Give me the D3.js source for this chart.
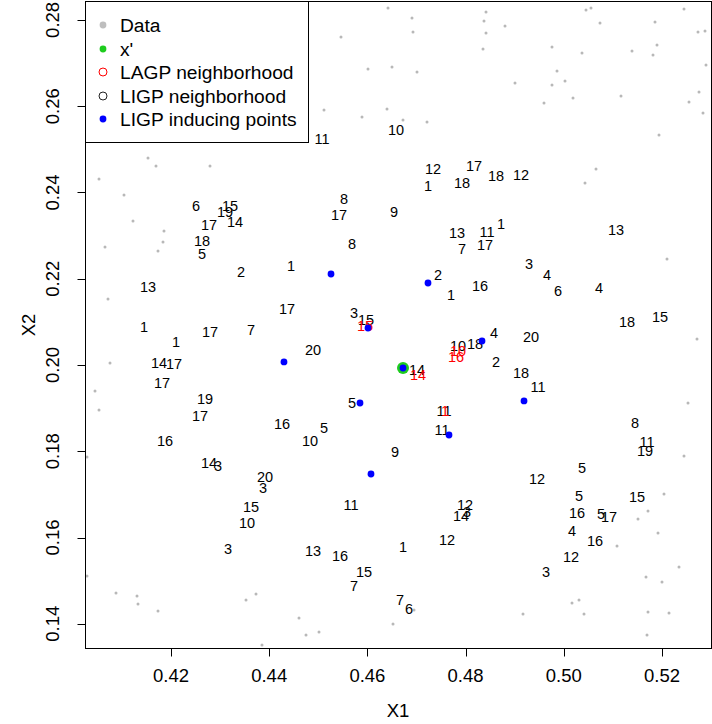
<!DOCTYPE html>
<html><head><meta charset="utf-8">
<script src="https://cdn.jsdelivr.net/npm/d3@7"></script>
<style>body{margin:0;background:#fff}svg{display:block}text{font-family:"Liberation Sans",Arial,Helvetica,sans-serif}</style>
</head><body>
<script>
// ---- data ----
const grayX=[0.41532,0.46420,0.46908,0.46929,0.45462,0.46012,0.46501,0.47010,0.45116,0.45890,0.46399,0.46725,0.47214,0.48416,0.48375,0.48416,0.48803,0.48355,0.50452,0.50554,0.50737,0.52448,0.51858,0.52733,0.52876,0.49760,0.50371,0.51389,0.51898,0.51817,0.52896,0.49862,0.49006,0.49760,0.50025,0.50188,0.49597,0.51165,0.52754,0.52550,0.52835,0.51939,0.41694,0.42794,0.40534,0.41043,0.41226,0.41857,0.41837,0.40656,0.41735,0.40717,0.50432,0.50656,0.52102,0.40758,0.40452,0.40534,0.40289,0.52713,0.52530,0.52448,0.40289,0.40880,0.41308,0.41328,0.41735,0.43528,0.43731,0.43853,0.44607,0.44750,0.45014,0.46522,0.46949,0.52041,0.51715,0.51511,0.51919,0.51084,0.52346,0.51674,0.52000,0.50167,0.50310,0.49169,0.50412,0.51715,0.52143,0.51695];
const grayY=[0.24798,0.28275,0.28043,0.27719,0.27603,0.26861,0.26908,0.26792,0.25911,0.25749,0.25934,0.25679,0.25633,0.28183,0.27974,0.27696,0.27858,0.27325,0.28229,0.28275,0.27928,0.28252,0.27951,0.27719,0.27742,0.27371,0.27232,0.27279,0.27418,0.27186,0.26954,0.26815,0.26537,0.26490,0.26583,0.26189,0.26073,0.26235,0.26328,0.26096,0.25841,0.25331,0.24613,0.24613,0.24311,0.23941,0.23338,0.23106,0.22851,0.22735,0.22643,0.21530,0.24219,0.24543,0.22457,0.20046,0.19397,0.18957,0.17867,0.20603,0.19119,0.17891,0.15109,0.14715,0.14645,0.14460,0.14298,0.14553,0.14692,0.13510,0.14135,0.13741,0.13811,0.13996,0.14321,0.17010,0.16616,0.16430,0.16106,0.15804,0.15318,0.15086,0.14970,0.14483,0.14553,0.14228,0.14228,0.14275,0.14251,0.13741];

const nbrX=[0.46583,0.45075,0.47336,0.48171,0.47234,0.47927,0.48619,0.49128,0.42509,0.43202,0.43100,0.42774,0.43303,0.45524,0.45422,0.46542,0.42631,0.42631,0.47825,0.48436,0.48721,0.47927,0.48395,0.45686,0.51063,0.43426,0.44444,0.49291,0.49658,0.49882,0.50717,0.41532,0.47438,0.47703,0.48293,0.44363,0.45727,0.45972,0.41450,0.42102,0.42794,0.43629,0.51287,0.51959,0.48579,0.49332,0.44892,0.47845,0.48192,0.48619,0.47010,0.41756,0.42061,0.41817,0.49128,0.49475,0.42692,0.42591,0.45686,0.47560,0.41878,0.44261,0.45116,0.44831,0.47519,0.51450,0.51695,0.51654,0.46562,0.42774,0.42957,0.43915,0.43874,0.50371,0.49454,0.45666,0.43629,0.43548,0.50310,0.51491,0.47988,0.47906,0.48029,0.50269,0.50758,0.50921,0.50167,0.50636,0.47621,0.43161,0.44892,0.45442,0.46725,0.50147,0.45931,0.49638,0.45727,0.46664,0.46847];
const nbrY=[0.25447,0.25239,0.24543,0.24613,0.24149,0.24219,0.24381,0.24404,0.23686,0.23686,0.23547,0.23245,0.23315,0.23848,0.23477,0.23547,0.22874,0.22573,0.23060,0.23083,0.23268,0.22689,0.22782,0.22805,0.23129,0.22156,0.22295,0.22341,0.22086,0.21715,0.21785,0.21808,0.22086,0.21623,0.21831,0.21298,0.21205,0.21043,0.20881,0.20533,0.20765,0.20811,0.20997,0.21113,0.20742,0.20649,0.20348,0.20440,0.20487,0.20070,0.19884,0.20046,0.20023,0.19583,0.19815,0.19490,0.19212,0.18818,0.19119,0.18934,0.18238,0.18632,0.18540,0.18238,0.18493,0.18656,0.18215,0.18006,0.17983,0.17728,0.17659,0.17404,0.17149,0.17612,0.17357,0.16755,0.16708,0.16338,0.16963,0.16940,0.16755,0.16500,0.16593,0.16569,0.16546,0.16477,0.16152,0.15920,0.15944,0.15735,0.15689,0.15573,0.15781,0.15549,0.15202,0.15202,0.14877,0.14553,0.14344];
const nbrLab=["10","11","12","17","1","18","18","12","6","15","19","17","14","8","17","9","18","5","13","11","1","7","17","8","13","2","1","3","4","6","4","13","2","1","16","17","3","15","1","1","17","7","18","15","4","20","20","10","18","2","14","14","17","17","18","11","19","17","5","11","16","16","5","10","11","8","11","19","9","14","3","20","3","5","12","11","15","10","5","15","12","14","3","16","5","17","4","16","12","3","13","16","1","12","15","3","7","7","6"];

const lagpX=[0.45951,0.47845,0.47805,0.47031,0.47580];
const lagpY=[0.20904,0.20325,0.20185,0.19768,0.18934];
const lagpLab=["15","10","16","14","1"];

const indX=[0.45259,0.47234,0.46012,0.48334,0.44301,0.46725,0.45849,0.49190,0.47662,0.46073];
const indY=[0.22109,0.21901,0.20858,0.20556,0.20070,0.19930,0.19119,0.19166,0.18377,0.17473];

const xpX=[0.46725];
const xpY=[0.19930];

const xTicks=[0.42,0.44,0.46,0.48,0.50,0.52];
const yTicks=[0.14,0.16,0.18,0.20,0.22,0.24,0.26,0.28];
const legendLabels=["Data","x'","LAGP neighborhood","LIGP neighborhood","LIGP inducing points"];

// ---- drawing ----
const W=712,H=724;
const plot={left:85.5,top:1.5,right:711.5,bottom:648.5};
const x=d3.scaleLinear().domain([0.42,0.52]).range([171,662]);
const y=d3.scaleLinear().domain([0.14,0.28]).range([623.8,19.9]);
const svg=d3.select("body").append("svg").attr("width",W).attr("height",H);

const g=svg.append("g");
// gray data points
g.selectAll("circle.data").data(d3.range(grayX.length)).join("circle")
 .attr("cx",i=>x(grayX[i])).attr("cy",i=>y(grayY[i])).attr("r",1.5).attr("fill","#b8b8b8");
// LIGP neighborhood labels
g.selectAll("text.nbr").data(d3.range(nbrX.length)).join("text")
 .attr("x",i=>x(nbrX[i])).attr("y",i=>y(nbrY[i])).attr("dy","0.36em").attr("text-anchor","middle")
 .attr("font-size","14.5px").attr("fill","#000").text(i=>nbrLab[i]);
// LAGP neighborhood labels (red)
g.selectAll("text.lagp").data(d3.range(lagpX.length)).join("text")
 .attr("x",i=>x(lagpX[i])).attr("y",i=>y(lagpY[i])).attr("dy","0.36em").attr("text-anchor","middle")
 .attr("font-size","14.5px").attr("fill","#ff0000").text(i=>lagpLab[i]);
// x'
g.selectAll("circle.xp").data(d3.range(xpX.length)).join("circle")
 .attr("cx",i=>x(xpX[i])).attr("cy",i=>y(xpY[i])).attr("r",6).attr("fill","#1ecc1e");
// inducing points
g.selectAll("circle.ind").data(d3.range(indX.length)).join("circle")
 .attr("cx",i=>x(indX[i])).attr("cy",i=>y(indY[i])).attr("r",3.4).attr("fill","#0000ff");

// box
svg.append("rect").attr("x",plot.left).attr("y",plot.top).attr("width",plot.right-plot.left)
 .attr("height",plot.bottom-plot.top).attr("fill","none").attr("stroke","#000").attr("stroke-width",1);

// x axis
const xa=svg.append("g");
xa.append("line").attr("x1",x(xTicks[0])).attr("x2",x(xTicks[xTicks.length-1])).attr("y1",plot.bottom).attr("y2",plot.bottom).attr("stroke","#000");
xTicks.forEach(t=>{
  const px=Math.round(x(t))+0.5;
  xa.append("line").attr("x1",px).attr("x2",px).attr("y1",plot.bottom).attr("y2",plot.bottom+8).attr("stroke","#000");
  xa.append("text").attr("x",x(t)).attr("y",675).attr("dy","0.36em").attr("text-anchor","middle")
    .attr("font-size","18.5px").attr("fill","#000").text(d3.format(".2f")(t));
});
// y axis
const ya=svg.append("g");
ya.append("line").attr("x1",plot.left).attr("x2",plot.left).attr("y1",y(yTicks[0])).attr("y2",y(yTicks[yTicks.length-1])).attr("stroke","#000");
yTicks.forEach(t=>{
  const py=Math.round(y(t))+0.5;
  ya.append("line").attr("x1",plot.left-8).attr("x2",plot.left).attr("y1",py).attr("y2",py).attr("stroke","#000");
  ya.append("text").attr("transform",`translate(52,${y(t)}) rotate(-90)`).attr("dy","0.36em").attr("text-anchor","middle")
    .attr("font-size","18.5px").attr("fill","#000").text(d3.format(".2f")(t));
});
svg.append("text").attr("x",398).attr("y",710).attr("dy","0.36em").attr("text-anchor","middle").attr("font-size","18.5px").text("X1");
svg.append("text").attr("transform","translate(28,325) rotate(-90)").attr("dy","0.36em").attr("text-anchor","middle").attr("font-size","18.5px").text("X2");

// legend
const lg=svg.append("g");
lg.append("rect").attr("x",85.5).attr("y",1.5).attr("width",223).attr("height",141).attr("fill","#fff").attr("stroke","#000");
const rowsY=[25,49,72,96,119];
const sym=[
 s=>s.attr("r",3.4).attr("fill","#bebebe"),
 s=>s.attr("r",3.4).attr("fill","#1ecc1e"),
 s=>s.attr("r",4).attr("fill","none").attr("stroke","#ff0000").attr("stroke-width",1),
 s=>s.attr("r",4).attr("fill","none").attr("stroke","#222").attr("stroke-width",1),
 s=>s.attr("r",3.4).attr("fill","#0000ff")
];
legendLabels.forEach((lab,i)=>{
  sym[i](lg.append("circle").attr("cx",103).attr("cy",rowsY[i]));
  lg.append("text").attr("x",120).attr("y",rowsY[i]).attr("dy","0.36em").attr("font-size","19.2px").attr("fill","#000").text(lab);
});
</script>
</body></html>
